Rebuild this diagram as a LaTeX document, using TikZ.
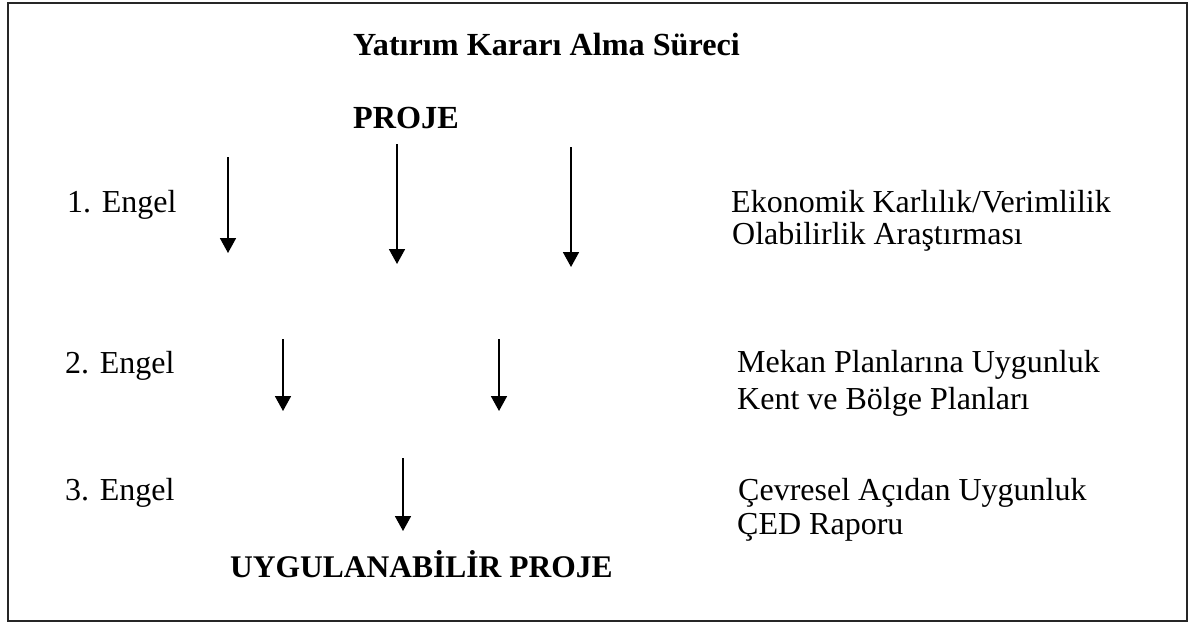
\documentclass[tikz,border=0pt]{standalone}
\usepackage{fontspec}
\setmainfont{Liberation Serif}
\usetikzlibrary{arrows.meta}
\begin{document}
\begin{tikzpicture}[x=1pt,y=-1pt,
  txt/.style={anchor=base west,inner sep=0pt,font=\fontsize{32}{36}\selectfont},
  btxt/.style={anchor=base west,inner sep=0pt,font=\fontsize{32.2}{36}\selectfont\bfseries},
  arr/.style={line width=1.8pt,-{Triangle[width=16pt,length=15pt]}},
  frame/.style={line width=1.6pt,draw=black!85}]
\useasboundingbox (0,0) rectangle (1198,633);
\draw[frame] (8,3) rectangle (1187,621);
% headings
\node[btxt] (title) at (353,55) {Yatırım Kararı Alma Süreci};
\node[btxt] (proje) at (353,128) {PROJE};
\node[btxt,font=\fontsize{31.5}{36}\selectfont\bfseries] (uyg) at (230,577) {UYGULANABİLİR PROJE};
% left labels
\node[txt] (e1) at (67,212) {1. Engel};
\node[txt] (e2) at (65,373) {2. Engel};
\node[txt] (e3) at (65,500) {3. Engel};
% right labels
\node[txt] (r1a) at (731,212) {Ekonomik Karlılık/Verimlilik};
\node[txt] (r1b) at (732,244) {Olabilirlik Araştırması};
\node[txt] (r2a) at (737,372) {Mekan Planlarına Uygunluk};
\node[txt] (r2b) at (737,409) {Kent ve Bölge Planları};
\node[txt] (r3a) at (738,500) {Çevresel Açıdan Uygunluk};
\node[txt] (r3b) at (737,534) {ÇED Raporu};
% arrow coordinates
\coordinate (a1s) at (228,157); \coordinate (a1e) at (228,253);
\coordinate (a2s) at (397,144); \coordinate (a2e) at (397,264);
\coordinate (a3s) at (571,147); \coordinate (a3e) at (571,267);
\coordinate (b1s) at (283,339); \coordinate (b1e) at (283,411);
\coordinate (b2s) at (499,339); \coordinate (b2e) at (499,411);
\coordinate (c1s) at (403,458); \coordinate (c1e) at (403,531);
\draw[arr] (a1s) -- (a1e);
\draw[arr] (a2s) -- (a2e);
\draw[arr] (a3s) -- (a3e);
\draw[arr] (b1s) -- (b1e);
\draw[arr] (b2s) -- (b2e);
\draw[arr] (c1s) -- (c1e);
\end{tikzpicture}
\end{document}
